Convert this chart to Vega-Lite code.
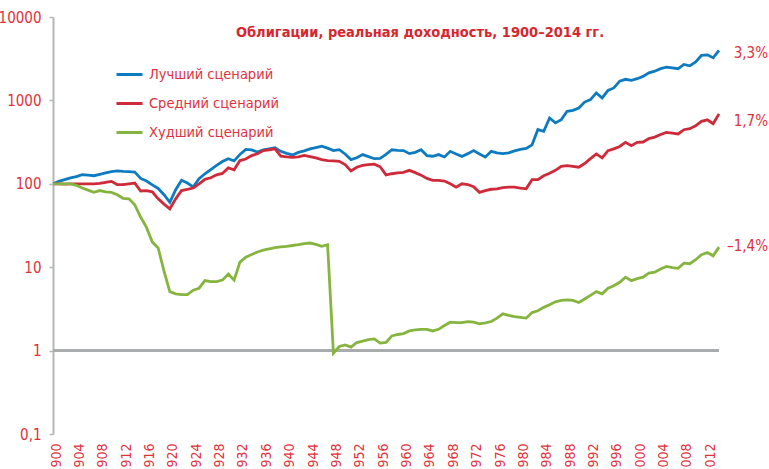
{
  "$schema": "https://vega.github.io/schema/vega-lite/v6.json",
  "width": 666,
  "height": 417,
  "autosize": {"type": "none"},
  "padding": {"left": 53, "top": 17, "right": 50, "bottom": 35},
  "background": "white",
  "config": {"view": {"stroke": null}},
  "title": {
    "text": "Облигации, реальная доходность, 1900–2014 гг.",
    "anchor": "middle",
    "frame": "group",
    "dx": 34,
    "offset": -41,
    "baseline": "alphabetic",
    "color": "#d7262e",
    "font": "DejaVu Sans Condensed, Liberation Sans, sans-serif",
    "fontSize": 14.5,
    "fontWeight": "bold"
  },
  "data": {
    "values": [
      {"year": 1900, "best": 100, "mid": 100, "worst": 100},
      {"year": 1901, "best": 107, "mid": 100, "worst": 100},
      {"year": 1902, "best": 112, "mid": 99, "worst": 100},
      {"year": 1903, "best": 118, "mid": 100, "worst": 100},
      {"year": 1904, "best": 122, "mid": 100, "worst": 96},
      {"year": 1905, "best": 129, "mid": 100, "worst": 89},
      {"year": 1906, "best": 127, "mid": 100, "worst": 84},
      {"year": 1907, "best": 125, "mid": 100, "worst": 79},
      {"year": 1908, "best": 130, "mid": 101, "worst": 83},
      {"year": 1909, "best": 135, "mid": 104, "worst": 80},
      {"year": 1910, "best": 140, "mid": 107, "worst": 79},
      {"year": 1911, "best": 143, "mid": 98, "worst": 74},
      {"year": 1912, "best": 141, "mid": 98, "worst": 67},
      {"year": 1913, "best": 140, "mid": 100, "worst": 66},
      {"year": 1914, "best": 138, "mid": 102, "worst": 56},
      {"year": 1915, "best": 116, "mid": 82, "worst": 40},
      {"year": 1916, "best": 108, "mid": 83, "worst": 30},
      {"year": 1917, "best": 97, "mid": 80, "worst": 20},
      {"year": 1918, "best": 88, "mid": 66, "worst": 17},
      {"year": 1919, "best": 74, "mid": 57, "worst": 9},
      {"year": 1920, "best": 60, "mid": 50, "worst": 5.1},
      {"year": 1921, "best": 85, "mid": 66, "worst": 4.8},
      {"year": 1922, "best": 110, "mid": 83, "worst": 4.7},
      {"year": 1923, "best": 102, "mid": 86, "worst": 4.7},
      {"year": 1924, "best": 92, "mid": 89, "worst": 5.3},
      {"year": 1925, "best": 115, "mid": 100, "worst": 5.6},
      {"year": 1926, "best": 132, "mid": 113, "worst": 6.9},
      {"year": 1927, "best": 148, "mid": 118, "worst": 6.7},
      {"year": 1928, "best": 166, "mid": 128, "worst": 6.7},
      {"year": 1929, "best": 185, "mid": 133, "worst": 7.0},
      {"year": 1930, "best": 200, "mid": 155, "worst": 8.3},
      {"year": 1931, "best": 188, "mid": 147, "worst": 7.0},
      {"year": 1932, "best": 225, "mid": 190, "worst": 11.5},
      {"year": 1933, "best": 258, "mid": 198, "worst": 13.2},
      {"year": 1934, "best": 255, "mid": 218, "worst": 14.2},
      {"year": 1935, "best": 240, "mid": 229, "worst": 15.2},
      {"year": 1936, "best": 255, "mid": 250, "worst": 16.0},
      {"year": 1937, "best": 262, "mid": 256, "worst": 16.6},
      {"year": 1938, "best": 270, "mid": 262, "worst": 17.2},
      {"year": 1939, "best": 245, "mid": 215, "worst": 17.5},
      {"year": 1940, "best": 232, "mid": 210, "worst": 17.8},
      {"year": 1941, "best": 222, "mid": 207, "worst": 18.2},
      {"year": 1942, "best": 238, "mid": 210, "worst": 18.6},
      {"year": 1943, "best": 248, "mid": 219, "worst": 19.2},
      {"year": 1944, "best": 262, "mid": 212, "worst": 19.5},
      {"year": 1945, "best": 272, "mid": 204, "worst": 18.8},
      {"year": 1946, "best": 282, "mid": 195, "worst": 17.8},
      {"year": 1947, "best": 268, "mid": 190, "worst": 18.6},
      {"year": 1948, "best": 250, "mid": 188, "worst": 0.93},
      {"year": 1949, "best": 257, "mid": 186, "worst": 1.12},
      {"year": 1950, "best": 228, "mid": 170, "worst": 1.17},
      {"year": 1951, "best": 195, "mid": 143, "worst": 1.1},
      {"year": 1952, "best": 205, "mid": 158, "worst": 1.25},
      {"year": 1953, "best": 224, "mid": 166, "worst": 1.3},
      {"year": 1954, "best": 212, "mid": 170, "worst": 1.35},
      {"year": 1955, "best": 200, "mid": 172, "worst": 1.38},
      {"year": 1956, "best": 202, "mid": 160, "worst": 1.23},
      {"year": 1957, "best": 225, "mid": 128, "worst": 1.25},
      {"year": 1958, "best": 256, "mid": 132, "worst": 1.5},
      {"year": 1959, "best": 252, "mid": 135, "worst": 1.56},
      {"year": 1960, "best": 250, "mid": 137, "worst": 1.6},
      {"year": 1961, "best": 230, "mid": 145, "worst": 1.72},
      {"year": 1962, "best": 238, "mid": 136, "worst": 1.77},
      {"year": 1963, "best": 256, "mid": 127, "worst": 1.8},
      {"year": 1964, "best": 218, "mid": 116, "worst": 1.8},
      {"year": 1965, "best": 214, "mid": 110, "worst": 1.72},
      {"year": 1966, "best": 224, "mid": 110, "worst": 1.8},
      {"year": 1967, "best": 210, "mid": 108, "worst": 2.0},
      {"year": 1968, "best": 245, "mid": 100, "worst": 2.19},
      {"year": 1969, "best": 228, "mid": 91, "worst": 2.17},
      {"year": 1970, "best": 213, "mid": 100, "worst": 2.17},
      {"year": 1971, "best": 230, "mid": 98, "worst": 2.23},
      {"year": 1972, "best": 250, "mid": 92, "worst": 2.2},
      {"year": 1973, "best": 228, "mid": 79, "worst": 2.09},
      {"year": 1974, "best": 210, "mid": 83, "worst": 2.15},
      {"year": 1975, "best": 245, "mid": 86, "worst": 2.23},
      {"year": 1976, "best": 235, "mid": 87, "worst": 2.45},
      {"year": 1977, "best": 230, "mid": 90, "worst": 2.76},
      {"year": 1978, "best": 235, "mid": 91, "worst": 2.65},
      {"year": 1979, "best": 248, "mid": 91, "worst": 2.56},
      {"year": 1980, "best": 258, "mid": 89, "worst": 2.5},
      {"year": 1981, "best": 265, "mid": 87, "worst": 2.45},
      {"year": 1982, "best": 293, "mid": 112, "worst": 2.86},
      {"year": 1983, "best": 447, "mid": 112, "worst": 3.0},
      {"year": 1984, "best": 427, "mid": 125, "worst": 3.3},
      {"year": 1985, "best": 616, "mid": 134, "worst": 3.55},
      {"year": 1986, "best": 537, "mid": 145, "worst": 3.85},
      {"year": 1987, "best": 588, "mid": 162, "worst": 4.0},
      {"year": 1988, "best": 741, "mid": 165, "worst": 4.06},
      {"year": 1989, "best": 760, "mid": 162, "worst": 4.0},
      {"year": 1990, "best": 810, "mid": 158, "worst": 3.77},
      {"year": 1991, "best": 955, "mid": 175, "worst": 4.15},
      {"year": 1992, "best": 1022, "mid": 200, "worst": 4.6},
      {"year": 1993, "best": 1230, "mid": 228, "worst": 5.1},
      {"year": 1994, "best": 1070, "mid": 204, "worst": 4.8},
      {"year": 1995, "best": 1320, "mid": 250, "worst": 5.6},
      {"year": 1996, "best": 1410, "mid": 262, "worst": 6.0},
      {"year": 1997, "best": 1700, "mid": 280, "worst": 6.6},
      {"year": 1998, "best": 1790, "mid": 314, "worst": 7.6},
      {"year": 1999, "best": 1740, "mid": 287, "worst": 6.9},
      {"year": 2000, "best": 1820, "mid": 314, "worst": 7.3},
      {"year": 2001, "best": 1940, "mid": 317, "worst": 7.6},
      {"year": 2002, "best": 2140, "mid": 348, "worst": 8.5},
      {"year": 2003, "best": 2240, "mid": 363, "worst": 8.7},
      {"year": 2004, "best": 2400, "mid": 390, "worst": 9.5},
      {"year": 2005, "best": 2510, "mid": 414, "worst": 10.2},
      {"year": 2006, "best": 2450, "mid": 405, "worst": 9.9},
      {"year": 2007, "best": 2400, "mid": 396, "worst": 9.7},
      {"year": 2008, "best": 2700, "mid": 445, "worst": 11.2},
      {"year": 2009, "best": 2600, "mid": 458, "worst": 11.0},
      {"year": 2010, "best": 2900, "mid": 495, "worst": 12.3},
      {"year": 2011, "best": 3460, "mid": 560, "worst": 14.1},
      {"year": 2012, "best": 3520, "mid": 585, "worst": 15.0},
      {"year": 2013, "best": 3240, "mid": 525, "worst": 13.7},
      {"year": 2014, "best": 3990, "mid": 690, "worst": 17.4}
    ]
  },
  "layer": [
    {
      "mark": {"type": "rule", "color": "#a8acac", "strokeWidth": 2},
      "encoding": {"y": {"datum": 1, "type": "quantitative"}}
    },
    {
      "transform": [{"fold": ["best", "mid", "worst"], "as": ["series", "value"]}],
      "mark": {"type": "line", "strokeWidth": 2.8, "clip": false},
      "encoding": {
        "x": {
          "field": "year",
          "type": "quantitative",
          "scale": {"domain": [1900, 2014], "nice": false, "zero": false},
          "axis": {
            "values": [1900, 1904, 1908, 1912, 1916, 1920, 1924, 1928, 1932, 1936, 1940, 1944, 1948, 1952, 1956, 1960, 1964, 1968, 1972, 1976, 1980, 1984, 1988, 1992, 1996, 2000, 2004, 2008, 2012],
            "format": "d",
            "title": null,
            "grid": false,
            "domain": false,
            "ticks": false,
            "labelAngle": -90,
            "labelAlign": "right",
            "labelBaseline": "middle",
            "labelOffset": 3,
            "labelPadding": 9,
            "labelOverlap": false,
            "labelBound": false,
            "labelFlush": false,
            "labelColor": "#e0313c",
            "labelFont": "DejaVu Sans Condensed, Liberation Sans, sans-serif",
            "labelFontSize": 14
          }
        },
        "y": {
          "field": "value",
          "type": "quantitative",
          "scale": {"type": "log", "domain": [0.1, 10000], "nice": false},
          "axis": {
            "values": [0.1, 1, 10, 100, 1000, 10000],
            "labelExpr": "datum.value < 1 ? '0,1' : format(datum.value, 'd')",
            "title": null,
            "grid": false,
            "domainColor": "#b3b8b8",
            "domainWidth": 2,
            "tickColor": "#b3b8b8",
            "tickWidth": 1.5,
            "tickSize": 4,
            "labelPadding": 8,
            "labelColor": "#e0313c",
            "labelFont": "DejaVu Sans Condensed, Liberation Sans, sans-serif",
            "labelFontSize": 15,
            "labelOverlap": false,
            "labelBound": false,
            "labelFlush": false
          }
        },
        "color": {
          "field": "series",
          "type": "nominal",
          "scale": {"domain": ["best", "mid", "worst"], "range": ["#0e7bc1", "#cf2a3a", "#86b53f"]},
          "legend": {
            "orient": "none",
            "legendX": 62,
            "legendY": 43,
            "title": null,
            "padding": 0,
            "symbolType": "stroke",
            "symbolSize": 676,
            "symbolStrokeWidth": 3,
            "labelOffset": 5,
            "rowPadding": 8,
            "labelColor": "#e0313c",
            "labelFont": "DejaVu Sans Condensed, Liberation Sans, sans-serif",
            "labelFontSize": 14.5,
            "labelExpr": "datum.label == 'best' ? 'Лучший сценарий' : datum.label == 'mid' ? 'Средний сценарий' : 'Худший сценарий'"
          }
        }
      }
    },
    {
      "data": {
        "values": [
          {"label": "3,3%", "value": 3750},
          {"label": "1,7%", "value": 571},
          {"label": "–1,4%", "value": 18}
        ]
      },
      "mark": {
        "type": "text",
        "align": "right",
        "baseline": "middle",
        "dx": 49,
        "clip": false,
        "color": "#e0313c",
        "font": "DejaVu Sans Condensed, Liberation Sans, sans-serif",
        "fontSize": 15
      },
      "encoding": {
        "x": {
          "datum": 2014,
          "type": "quantitative",
          "axis": {
            "values": [1900, 1904, 1908, 1912, 1916, 1920, 1924, 1928, 1932, 1936, 1940, 1944, 1948, 1952, 1956, 1960, 1964, 1968, 1972, 1976, 1980, 1984, 1988, 1992, 1996, 2000, 2004, 2008, 2012],
            "format": "d",
            "title": null,
            "grid": false,
            "domain": false,
            "ticks": false,
            "labelAngle": -90,
            "labelAlign": "right",
            "labelBaseline": "middle",
            "labelOffset": 3,
            "labelPadding": 9,
            "labelOverlap": false,
            "labelBound": false,
            "labelFlush": false,
            "labelColor": "#e0313c",
            "labelFont": "DejaVu Sans Condensed, Liberation Sans, sans-serif",
            "labelFontSize": 14
          }
        },
        "y": {"field": "value", "type": "quantitative"},
        "text": {"field": "label"}
      }
    }
  ]
}
